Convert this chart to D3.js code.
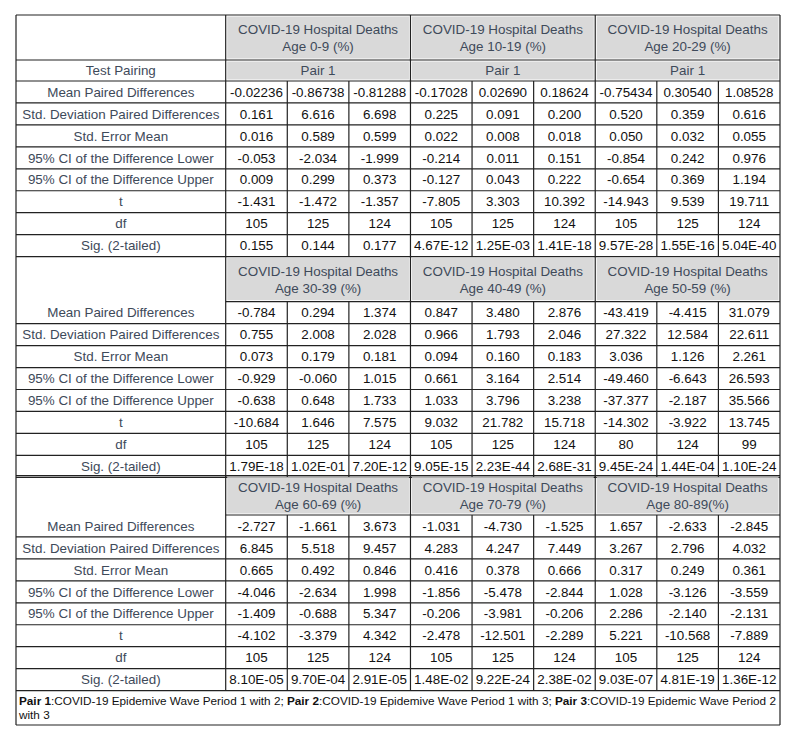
<!DOCTYPE html>
<html><head><meta charset="utf-8">
<script src="https://cdn.jsdelivr.net/npm/d3@7"></script>
<style>body{margin:0;background:#fff;}svg{display:block;}</style>
</head><body><svg id="c" width="800" height="739"></svg>
<script>
const ageGroups = ["Age 0-9 (%)","Age 10-19 (%)","Age 20-29 (%)","Age 30-39 (%)","Age 40-49 (%)","Age 50-59 (%)","Age 60-69 (%)","Age 70-79 (%)","Age 80-89(%)"];
const headerTitle = "COVID-19 Hospital Deaths";
const rowLabels = ["Mean Paired Differences","Std. Deviation Paired Differences","Std. Error Mean","95% CI of the Difference Lower","95% CI of the Difference Upper","t","df","Sig. (2-tailed)"];
const pairLabel = "Pair 1";
const testPairingLabel = "Test Pairing";
// values per block: rows x 9 columns (3 age groups x 3 pairs)
const block1 = [
 ["-0.02236","-0.86738","-0.81288","-0.17028","0.02690","0.18624","-0.75434","0.30540","1.08528"],
 ["0.161","6.616","6.698","0.225","0.091","0.200","0.520","0.359","0.616"],
 ["0.016","0.589","0.599","0.022","0.008","0.018","0.050","0.032","0.055"],
 ["-0.053","-2.034","-1.999","-0.214","0.011","0.151","-0.854","0.242","0.976"],
 ["0.009","0.299","0.373","-0.127","0.043","0.222","-0.654","0.369","1.194"],
 ["-1.431","-1.472","-1.357","-7.805","3.303","10.392","-14.943","9.539","19.711"],
 ["105","125","124","105","125","124","105","125","124"],
 ["0.155","0.144","0.177","4.67E-12","1.25E-03","1.41E-18","9.57E-28","1.55E-16","5.04E-40"]
];
const block2 = [
 ["-0.784","0.294","1.374","0.847","3.480","2.876","-43.419","-4.415","31.079"],
 ["0.755","2.008","2.028","0.966","1.793","2.046","27.322","12.584","22.611"],
 ["0.073","0.179","0.181","0.094","0.160","0.183","3.036","1.126","2.261"],
 ["-0.929","-0.060","1.015","0.661","3.164","2.514","-49.460","-6.643","26.593"],
 ["-0.638","0.648","1.733","1.033","3.796","3.238","-37.377","-2.187","35.566"],
 ["-10.684","1.646","7.575","9.032","21.782","15.718","-14.302","-3.922","13.745"],
 ["105","125","124","105","125","124","80","124","99"],
 ["1.79E-18","1.02E-01","7.20E-12","9.05E-15","2.23E-44","2.68E-31","9.45E-24","1.44E-04","1.10E-24"]
];
const block3 = [
 ["-2.727","-1.661","3.673","-1.031","-4.730","-1.525","1.657","-2.633","-2.845"],
 ["6.845","5.518","9.457","4.283","4.247","7.449","3.267","2.796","4.032"],
 ["0.665","0.492","0.846","0.416","0.378","0.666","0.317","0.249","0.361"],
 ["-4.046","-2.634","1.998","-1.856","-5.478","-2.844","1.028","-3.126","-3.559"],
 ["-1.409","-0.688","5.347","-0.206","-3.981","-0.206","2.286","-2.140","-2.131"],
 ["-4.102","-3.379","4.342","-2.478","-12.501","-2.289","5.221","-10.568","-7.889"],
 ["105","125","124","105","125","124","105","125","124"],
 ["8.10E-05","9.70E-04","2.91E-05","1.48E-02","9.22E-24","2.38E-02","9.03E-07","4.81E-19","1.36E-12"]
];
const footnoteParts = [
 {b:true,t:"Pair 1"},{b:false,t:":COVID-19 Epidemive Wave Period 1 with 2; "},
 {b:true,t:"Pair 2"},{b:false,t:":COVID-19 Epidemive Wave Period 1 with 3; "},
 {b:true,t:"Pair 3"},{b:false,t:":COVID-19 Epidemic Wave Period 2"}
];
const footnoteLine2 = "with 3";

const svg = d3.select("#c");
const font = "'Liberation Sans', Arial, sans-serif";
const slate = "#3e4a5a";
const lineC = "#222";
const gray = "#d9d9d9";
const fs = 13.4;
const left = 16, labelRight = 225.7, right = 780;
const x = d3.scaleLinear().domain([0, 9]).range([labelRight, right]);
const rowH = 21.95;

const blocks = [
  {data: block1, top: 15, headH: 45, pair: true, groups: ageGroups.slice(0,3)},
  {data: block2, top: 256.5, headH: 45.2, pair: false, groups: ageGroups.slice(3,6)},
  {data: block3, top: 475.7, headH: 39.3, pair: false, groups: ageGroups.slice(6,9)}
];

const g = svg.append("g");
let bottom = 0;
blocks.forEach(b => {
  const headBot = b.top + b.headH;
  const pairH = b.pair ? 21 : 0;
  const dataTop = headBot + pairH;
  const y = d3.scaleLinear().domain([0, 8]).range([dataTop, dataTop + 8*rowH]);
  b.groups.forEach((grp, i) => {
    g.append("rect").attr("x", x(i*3)+1.5).attr("y", b.top+1.5)
      .attr("width", x(i*3+3)-x(i*3)-3).attr("height", b.headH-3).attr("fill", gray);
    const cx = (x(i*3)+x(i*3+3))/2;
    const t = g.append("text").attr("x", cx).attr("text-anchor","middle")
      .attr("font-family", font).attr("font-size", fs).attr("fill", slate);
    const midY = b.top + b.headH/2;
    t.append("tspan").attr("x", cx).attr("y", midY - 3.5).text(headerTitle);
    t.append("tspan").attr("x", cx).attr("y", midY + 13.5).text(grp);
    if (b.pair) {
      g.append("rect").attr("x", x(i*3)+1.5).attr("y", headBot+1.5)
        .attr("width", x(i*3+3)-x(i*3)-3).attr("height", pairH-3).attr("fill", gray);
      g.append("text").attr("x", cx).attr("y", headBot + pairH/2 + 4.7)
        .attr("text-anchor","middle").attr("font-family", font).attr("font-size", fs)
        .attr("fill", slate).text(pairLabel);
    }
  });
  if (b.pair) {
    g.append("text").attr("x", (left+labelRight)/2).attr("y", headBot + pairH/2 + 4.7)
      .attr("text-anchor","middle").attr("font-family", font).attr("font-size", fs)
      .attr("fill", slate).text(testPairingLabel);
  }
  rowLabels.forEach((lab, r) => {
    const cy = (y(r)+y(r+1))/2 + 4.7;
    g.append("text").attr("x", (left+labelRight)/2).attr("y", cy)
      .attr("text-anchor","middle").attr("font-family", font).attr("font-size", fs)
      .attr("fill", slate).text(lab);
    b.data[r].forEach((v, c) => {
      g.append("text").attr("x", (x(c)+x(c+1))/2).attr("y", cy)
        .attr("text-anchor","middle").attr("font-family", font).attr("font-size", fs)
        .attr("fill", "#111").text(v);
    });
  });
  const hl = (yy, x1, x2) => g.append("line").attr("x1", x1).attr("x2", x2)
    .attr("y1", yy).attr("y2", yy).attr("stroke", lineC).attr("stroke-width", 1.2);
  const vl = (xx, y1, y2) => g.append("line").attr("x1", xx).attr("x2", xx)
    .attr("y1", y1).attr("y2", y2).attr("stroke", lineC).attr("stroke-width", 1.2);
  hl(b.top, left, right);
  hl(headBot, b.pair ? left : labelRight, right);
  if (b.pair) hl(dataTop, left, right);
  for (let r = 1; r <= 8; r++) hl(y(r), left, right);
  vl(labelRight, b.top, y(8));
  for (let c = 1; c < 9; c++) {
    if (c % 3 === 0) vl(x(c), b.top, y(8));
    else vl(x(c), dataTop, y(8));
  }
  bottom = y(8);
});
const footBot = 725;
g.append("line").attr("x1", left).attr("x2", left).attr("y1", 15).attr("y2", footBot).attr("stroke", lineC).attr("stroke-width", 1.2);
g.append("line").attr("x1", right).attr("x2", right).attr("y1", 15).attr("y2", footBot).attr("stroke", lineC).attr("stroke-width", 1.2);
g.append("line").attr("x1", left).attr("x2", right).attr("y1", footBot).attr("y2", footBot).attr("stroke", lineC).attr("stroke-width", 1.2);
const ft = g.append("text").attr("x", 19).attr("y", bottom + 14.5)
  .attr("font-family", font).attr("font-size", 11.75).attr("fill", "#111");
footnoteParts.forEach(p => ft.append("tspan").attr("font-weight", p.b ? "bold" : "normal").text(p.t));
g.append("text").attr("x", 19).attr("y", bottom + 28.5)
  .attr("font-family", font).attr("font-size", 11.75).attr("fill", "#111").text(footnoteLine2);
</script></body></html>
